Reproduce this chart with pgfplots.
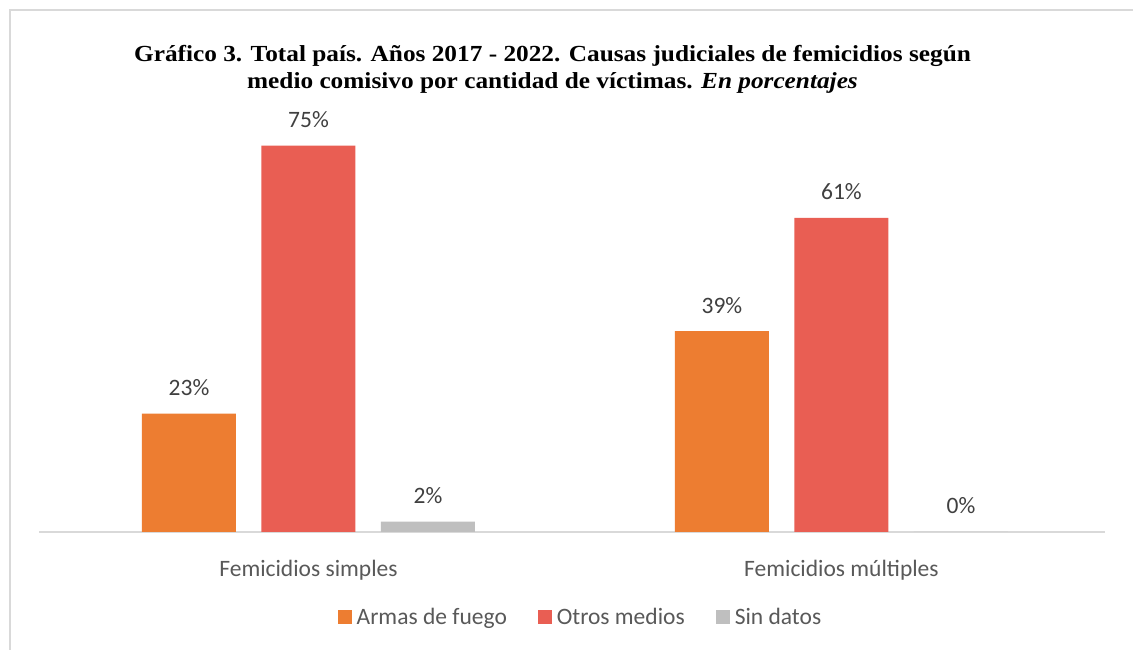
\documentclass[border=0pt]{standalone}
\usepackage{pgfplots}
\pgfplotsset{compat=1.18}
\usepackage{fontspec}
\setmainfont{Carlito}
\newfontfamily\titlefont[FakeStretch=1.1]{Liberation Serif}
\definecolor{corange}{HTML}{ED7D31}
\definecolor{cred}{HTML}{E95E53}
\definecolor{cgray}{HTML}{BFBFBF}
\definecolor{linegray}{HTML}{D9D9D9}
\definecolor{valtext}{HTML}{404040}
\definecolor{cattext}{HTML}{595959}
\begin{document}
\begin{tikzpicture}[x=1pt,y=1pt]
\useasboundingbox (0,0) rectangle (1133,650);
\fill[white] (0,0) rectangle (1133,650);
\draw[linegray, line width=1.5pt] (10,-5) -- (10,640) -- (1140,640);
\node[font=\titlefont\bfseries\fontsize{23}{27}\selectfont, anchor=base] at (552.5,588) {Gráfico 3. Total país. Años 2017 - 2022. Causas judiciales de femicidios según};
\node[font=\titlefont\bfseries\fontsize{23}{27}\selectfont, anchor=base] at (552.5,561) {medio comisivo por cantidad de víctimas. \textit{En porcentajes}};
\begin{axis}[
  at={(39pt,118pt)}, anchor=south west,
  scale only axis, width=1066pt, height=412pt,
  xmin=-0.5056, xmax=1.4944, ymin=0, ymax=80,
  ybar=25.5pt, bar width=94pt,
  hide y axis,
  axis x line*=bottom,
  x axis line style={draw=linegray, line width=1.5pt},
  xtick={0,1}, xticklabels={Femicidios simples, Femicidios múltiples},
  xtick style={draw=none},
  xticklabel style={font=\fontsize{23.5}{28}\selectfont, text=cattext, anchor=base, yshift=-40pt},
  /pgf/number format/assume math mode=true,
  nodes near coords={\pgfmathprintnumber{\pgfplotspointmeta}\%},
  every node near coord/.append style={font=\fontsize{23.5}{28}\selectfont, text=valtext, anchor=base, yshift=18pt},
  legend style={at={(0.507,-0.206)}, anchor=center, draw=none, fill=none, legend columns=3,
    font=\fontsize{23.5}{28}\selectfont, text=cattext, nodes={inner sep=0pt},
    /tikz/every odd column/.append style={column sep=5pt},
    /tikz/every even column/.append style={column sep=31pt}},
  legend image code/.code={\fill[#1] (0pt,-7pt) rectangle (14pt,7pt);},
  clip=false,
]
\addplot[fill=corange, draw=none] coordinates {(0,23) (1,39)};
\addplot[fill=cred, draw=none] coordinates {(0,75) (1,61)};
\addplot[fill=cgray, draw=none] coordinates {(0,2) (1,0)};
\legend{Armas de fuego, Otros medios, Sin datos}
\end{axis}
\end{tikzpicture}
\end{document}
